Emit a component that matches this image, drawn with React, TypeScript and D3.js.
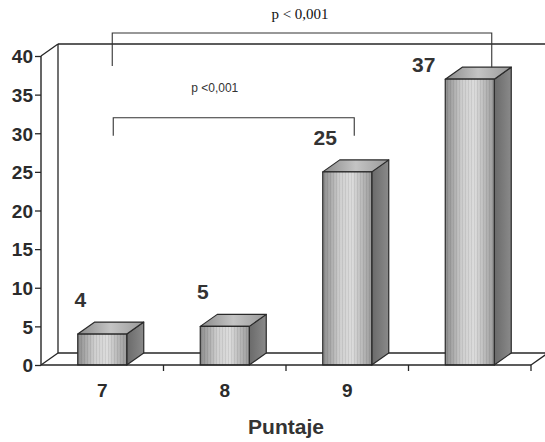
import React, { useEffect, useRef } from "react";
import * as d3 from "d3";

const categories = ["7", "8", "9", ""];
const values = [4, 5, 25, 37];
const yTicks = [0, 5, 10, 15, 20, 25, 30, 35, 40];
const xTitle = "Puntaje";
const pInner = "p <0,001";
const pOuter = "p < 0,001";

const App = () => {
  const width = 545;
  const height = 442;
  const ref = useRef<SVGSVGElement>(null);

  useEffect(() => {
    const svg = d3.select(ref.current);
    svg.selectAll("g.chart").remove();
    const g = svg.append("g").attr("class", "chart");

    const left = 41;
    const depth = { dx: 17, dy: -12 };
    const ink = "#262626";
    const sans = "Liberation Sans, Arial, sans-serif";

    const x = d3
      .scaleBand()
      .domain(categories.map((d, i) => String(i)))
      .range([left, left + 4 * 122.5])
      .paddingInner(0.6)
      .paddingOuter(0.3);
    const xb = d3
      .scaleBand()
      .domain(categories.map((d, i) => String(i)))
      .range([left, left + 4 * 122.5]);
    const y = d3.scaleLinear().domain([0, 40]).range([365, 56]);

    const y0 = y(0);
    const yTop = y(40);
    const right = left + 4 * 122.5;

    // back wall + floor
    const frame = g.append("g").attr("fill", "none").attr("stroke", ink).attr("stroke-width", 1.3);
    frame.append("line").attr("x1", left + depth.dx).attr("x2", left + depth.dx).attr("y1", yTop + depth.dy).attr("y2", y0 + depth.dy);
    frame.append("line").attr("x1", left + depth.dx).attr("x2", width).attr("y1", yTop + depth.dy).attr("y2", yTop + depth.dy);
    frame.append("line").attr("x1", left).attr("x2", left + depth.dx).attr("y1", yTop).attr("y2", yTop + depth.dy);
    frame.append("line").attr("x1", left + depth.dx).attr("x2", width).attr("y1", y0 + depth.dy).attr("y2", y0 + depth.dy);
    frame.append("line").attr("x1", left).attr("x2", left + depth.dx).attr("y1", y0).attr("y2", y0 + depth.dy);
    frame.append("line").attr("x1", right).attr("x2", right + depth.dx).attr("y1", y0).attr("y2", y0 + depth.dy);

    // bars
    const bars = g.append("g");
    values.forEach((v, i) => {
      const bx = x(String(i)) as number;
      const bw = x.bandwidth();
      const by = y(v);
      const gb = bars.append("g").attr("stroke", "#2a2a2a").attr("stroke-width", 1.2).attr("stroke-linejoin", "round");
      gb.append("path")
        .attr("d", `M${bx + bw},${by} L${bx + bw + depth.dx},${by + depth.dy} L${bx + bw + depth.dx},${y0 + depth.dy} L${bx + bw},${y0} Z`)
        .attr("fill", "url(#sideGrad)");
      gb.append("path")
        .attr("d", `M${bx},${by} L${bx + depth.dx},${by + depth.dy} L${bx + bw + depth.dx},${by + depth.dy} L${bx + bw},${by} Z`)
        .attr("fill", "url(#topGrad)");
      gb.append("rect")
        .attr("x", bx)
        .attr("y", by)
        .attr("width", bw)
        .attr("height", y0 - by)
        .attr("fill", "url(#frontGrad)");
      gb.append("rect")
        .attr("x", bx)
        .attr("y", by)
        .attr("width", bw)
        .attr("height", y0 - by)
        .attr("fill", "url(#stripes)")
        .attr("stroke", "none");
    });

    // front axes
    g.append("line").attr("x1", left).attr("x2", left).attr("y1", yTop).attr("y2", y0).attr("stroke", ink).attr("stroke-width", 1.4);
    g.append("line").attr("x1", left).attr("x2", right).attr("y1", y0).attr("y2", y0).attr("stroke", ink).attr("stroke-width", 1.4);

    const yAxis = g
      .append("g")
      .attr("transform", `translate(${left},0)`)
      .call(d3.axisLeft(y).tickValues(yTicks).tickSize(6).tickPadding(2));
    yAxis.select(".domain").remove();
    yAxis.selectAll("line").attr("stroke", ink).attr("stroke-width", 1.3);
    yAxis
      .selectAll("text")
      .attr("fill", "#2b2b2b")
      .attr("font-family", sans)
      .attr("font-weight", "bold")
      .attr("font-size", 19)
      .attr("dy", "0.36em");

    // x ticks at band edges
    g.append("g")
      .selectAll("line")
      .data(categories.map((d, i) => i + 1))
      .enter()
      .append("line")
      .attr("x1", (d) => left + d * xb.bandwidth())
      .attr("x2", (d) => left + d * xb.bandwidth())
      .attr("y1", y0)
      .attr("y2", y0 + 6)
      .attr("stroke", ink)
      .attr("stroke-width", 1.3);

    g.append("g")
      .selectAll("text")
      .data(categories)
      .enter()
      .append("text")
      .attr("x", (d, i) => (xb(String(i)) as number) + xb.bandwidth() / 2)
      .attr("y", 397)
      .attr("text-anchor", "middle")
      .attr("font-family", sans)
      .attr("font-weight", "bold")
      .attr("font-size", 19)
      .attr("fill", "#2b2b2b")
      .text((d) => d);

    g.append("text")
      .attr("x", (left + right) / 2)
      .attr("y", 434)
      .attr("text-anchor", "middle")
      .attr("font-family", sans)
      .attr("font-weight", "bold")
      .attr("font-size", 21)
      .attr("fill", "#333")
      .text(xTitle);

    // value labels (the last one sits beside its bar, clear of the bracket)
    const last = values.length - 1;
    g.append("g")
      .selectAll("text")
      .data(values)
      .enter()
      .append("text")
      .attr("x", (d, i) => (xb(String(i)) as number) + xb.bandwidth() / 2 - (i === last ? 46 : 22))
      .attr("y", (d, i) => y(d) - (i === last ? 7 : 27))
      .attr("text-anchor", "middle")
      .attr("font-family", sans)
      .attr("font-weight", "bold")
      .attr("font-size", 21)
      .attr("fill", "#333")
      .text((d) => d);

    // brackets
    const cx = (i: number) => (xb(String(i)) as number) + xb.bandwidth() / 2;
    const br = g.append("g").attr("fill", "none").attr("stroke", "#333").attr("stroke-width", 1.1);
    const b1y = y(32);
    br.append("path").attr("d", `M${cx(0) + 11},${b1y + 18} V${b1y} H${cx(2) + 7} V${b1y + 18}`);
    const b2y = 33;
    br.append("path").attr("d", `M${cx(0) + 10},${b2y + 33} V${b2y} H${cx(3) + 22} V${y(37) + depth.dy}`);

    g.append("text")
      .attr("x", (cx(0) + cx(2)) / 2 - 10)
      .attr("y", 92)
      .attr("text-anchor", "middle")
      .attr("font-family", sans)
      .attr("font-size", 12)
      .attr("fill", "#333")
      .text(pInner);

    g.append("text")
      .attr("x", 300)
      .attr("y", 19)
      .attr("text-anchor", "middle")
      .attr("font-family", "Liberation Serif, Times New Roman, serif")
      .attr("font-size", 15)
      .attr("fill", "#111")
      .text(pOuter);
  }, []);

  return (
    <svg
      ref={ref}
      width={width}
      height={height}
      style={{ position: "absolute", left: 0, top: 0, background: "#fff" }}
    >
      <defs>
        <linearGradient id="frontGrad" x1="0" x2="1" y1="0" y2="0">
          <stop offset="0" stopColor="#8c8c8c" />
          <stop offset="0.35" stopColor="#cfcfcf" />
          <stop offset="0.6" stopColor="#dcdcdc" />
          <stop offset="1" stopColor="#9a9a9a" />
        </linearGradient>
        <linearGradient id="sideGrad" x1="0" x2="1" y1="0" y2="0">
          <stop offset="0" stopColor="#6a6a6a" />
          <stop offset="1" stopColor="#8a8a8a" />
        </linearGradient>
        <linearGradient id="topGrad" x1="0" x2="1" y1="0" y2="0">
          <stop offset="0" stopColor="#8a8a8a" />
          <stop offset="0.5" stopColor="#c4c4c4" />
          <stop offset="1" stopColor="#999" />
        </linearGradient>
        <pattern id="stripes" width="3" height="4" patternUnits="userSpaceOnUse">
          <rect x="0" y="0" width="1" height="4" fill="#000" opacity="0.07" />
        </pattern>
      </defs>
    </svg>
  );
};

export default App;
